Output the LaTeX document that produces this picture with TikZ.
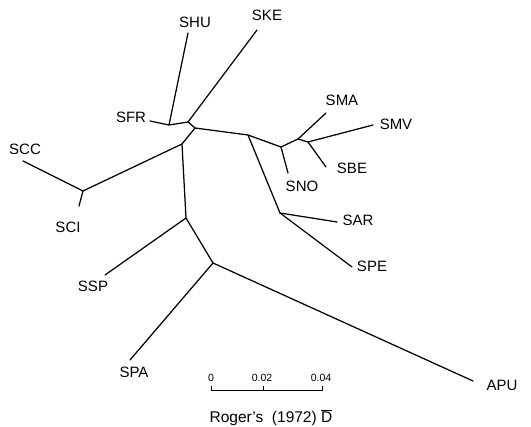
\documentclass[tikz,border=0pt]{standalone}
\usepackage{fontspec}
\setmainfont{Liberation Sans}
\begin{document}
\begin{tikzpicture}[x=1pt,y=-1pt,
  br/.style={line width=1.25pt,line cap=round,line join=round},
  lab/.style={font=\fontsize{15}{15}\selectfont,inner sep=0pt},
  sc/.style={font=\fontsize{10.5}{10.5}\selectfont,inner sep=0pt},
  captext/.style={font=\fontsize{15.5}{15.5}\selectfont,inner sep=0pt}]
\useasboundingbox (0,0) rectangle (531,427);
% internal junctions
\coordinate (j1) at (169,125);
\coordinate (j2) at (188,122);
\coordinate (j3) at (195,128);
\coordinate (j4) at (182,144);
\coordinate (j5) at (83,191);
\coordinate (j6) at (186,218);
\coordinate (j7) at (213,263);
\coordinate (j8) at (248,135);
\coordinate (j9) at (280,213);
\coordinate (j10) at (281,147);
\coordinate (j11) at (298,139);
\coordinate (j12) at (308,142);
% tips
\coordinate (tSFR) at (150,121);
\coordinate (tSHU) at (188,33);
\coordinate (tSKE) at (257,30);
\coordinate (tSCC) at (23,161);
\coordinate (tSCI) at (79,206);
\coordinate (tSSP) at (105,275);
\coordinate (tSPA) at (130,360);
\coordinate (tAPU) at (473,381);
\coordinate (tSAR) at (337,222);
\coordinate (tSPE) at (352,267);
\coordinate (tSNO) at (288,173);
\coordinate (tSMA) at (326,113);
\coordinate (tSMV) at (373,125);
\coordinate (tSBE) at (326,167);
% labels
\node[lab] (SFR) at (131,117) {SFR};
\node[lab] (SHU) at (195,22) {SHU};
\node[lab] (SKE) at (267,15) {SKE};
\node[lab] (SCC) at (25,149) {SCC};
\node[lab] (SCI) at (68,227) {SCI};
\node[lab] (SSP) at (93,286) {SSP};
\node[lab] (SPA) at (134,372) {SPA};
\node[lab] (APU) at (502,385) {APU};
\node[lab] (SAR) at (358,220) {SAR};
\node[lab] (SPE) at (372,266) {SPE};
\node[lab] (SNO) at (302,186) {SNO};
\node[lab] (SMA) at (342,100) {SMA};
\node[lab] (SMV) at (396,124) {SMV};
\node[lab] (SBE) at (352,168) {SBE};
% branches
\draw[br] (tSFR) -- (j1) -- (j2) -- (j3) -- (j8) -- (j10) -- (j11) -- (j12) -- (tSMV);
\draw[br] (j1) -- (tSHU);
\draw[br] (j2) -- (tSKE);
\draw[br] (j3) -- (j4) -- (j5) -- (tSCC);
\draw[br] (j5) -- (tSCI);
\draw[br] (j4) -- (j6) -- (tSSP);
\draw[br] (j6) -- (j7) -- (tSPA);
\draw[br] (j7) -- (tAPU);
\draw[br] (j8) -- (j9) -- (tSAR);
\draw[br] (j9) -- (tSPE);
\draw[br] (j10) -- (tSNO);
\draw[br] (j11) -- (tSMA);
\draw[br] (j12) -- (tSBE);
% scale bar
\coordinate (s0) at (211,390);
\coordinate (s2) at (263,390);
\coordinate (s4) at (322,390);
\draw[line width=0.9pt] (211,386) -- (s0) -- (s4) -- (322,386);
\draw[line width=0.9pt] (s2) -- (263,386);
\node[sc] (l0) at (211,378) {0};
\node[sc] (l2) at (262,378) {0.02};
\node[sc] (l4) at (321,378) {0.04};
\node[captext] (caption) at (271,418) {Roger's\ \ (1972)\ $\overline{\mbox{D}}$};
\end{tikzpicture}
\end{document}
